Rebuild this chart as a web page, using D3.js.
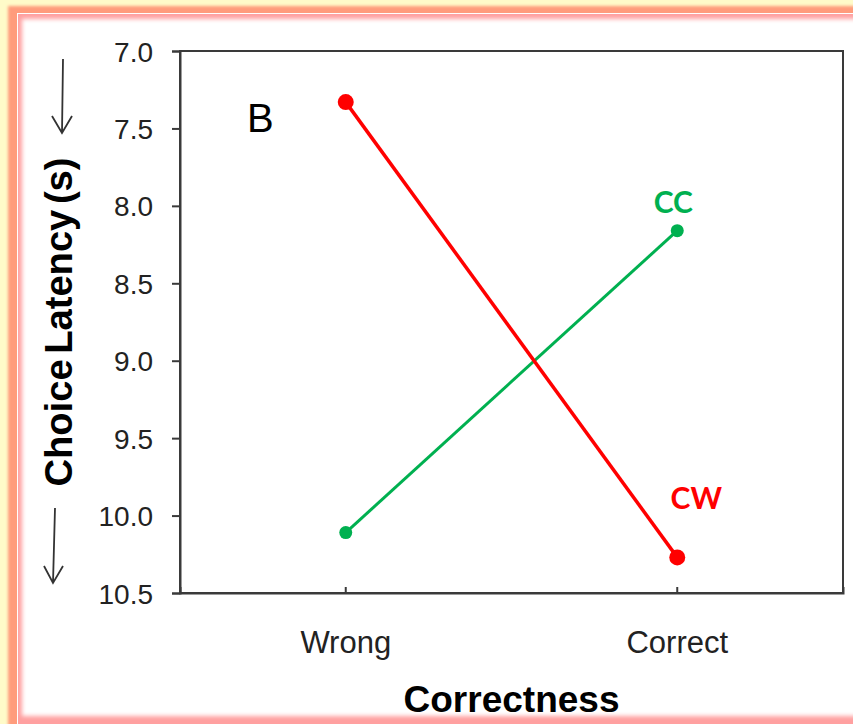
<!DOCTYPE html>
<html>
<head>
<meta charset="utf-8">
<script src="https://cdn.jsdelivr.net/npm/d3@7"></script>
<style>
  html, body { margin: 0; padding: 0; background: #fffbc9; }
  svg { display: block; }
</style>
</head>
<body>
<svg id="chart" width="853" height="724"></svg>
<script>
// ---- data ----
const categories = ["Wrong", "Correct"];
const ccValues = [10.11, 8.16];
const cwValues = [7.33, 10.27];
const yTicks = [7.0, 7.5, 8.0, 8.5, 9.0, 9.5, 10.0, 10.5];
const seriesNames = ["CC", "CW"];
const panelLabel = "B";
const xTitle = "Correctness";
const yTitle = "Choice Latency (s)";

const svg = d3.select("#chart");
const W = 853, H = 724;

// ---- frame ----
const defs = svg.append("defs");
defs.append("filter").attr("id", "blur1").attr("x", "-5%").attr("y", "-5%").attr("width", "110%").attr("height", "110%")
  .append("feGaussianBlur").attr("stdDeviation", 1.6);
defs.append("filter").attr("id", "blur2").attr("x", "-5%").attr("y", "-5%").attr("width", "110%").attr("height", "110%")
  .append("feGaussianBlur").attr("stdDeviation", 2.2);

svg.append("rect").attr("x", 0).attr("y", 0).attr("width", W).attr("height", H).attr("fill", "#fffbc9");
svg.append("rect").attr("x", 8).attr("y", 6).attr("width", 1200).attr("height", 1200)
  .attr("fill", "#ff9c7c").attr("filter", "url(#blur1)");
svg.append("rect").attr("x", 17).attr("y", 13).attr("width", 1200).attr("height", 1200).attr("fill", "#ffffff");
svg.append("rect").attr("x", 18).attr("y", 14).attr("width", 1200).attr("height", 1200).attr("fill", "#ffa0a0");
svg.append("rect").attr("x", 22).attr("y", 19).attr("width", 1200).attr("height", 697)
  .attr("fill", "#ffffff").attr("filter", "url(#blur2)");

// ---- scales ----
const plot = { left: 180, right: 843, top: 51, bottom: 593 };
const x = d3.scaleBand().domain(categories).range([plot.left, plot.right]).padding(0);
const xc = d => x(d) + x.bandwidth() / 2;
const y = d3.scaleLinear().domain([7.0, 10.5]).range([plot.top, plot.bottom]);

const axisColor = "#3a3a3a";
const font = "'Liberation Sans', Arial, sans-serif";

// plot border (top & right)
svg.append("rect")
  .attr("x", plot.left).attr("y", plot.top)
  .attr("width", plot.right - plot.left).attr("height", plot.bottom - plot.top)
  .attr("fill", "none").attr("stroke", axisColor).attr("stroke-width", 2);

// y axis
const gy = svg.append("g").attr("transform", `translate(${plot.left},0)`)
  .call(d3.axisLeft(y).tickValues(yTicks).tickFormat(d3.format(".1f")).tickSize(8).tickPadding(19));
gy.select(".domain").attr("stroke", axisColor).attr("stroke-width", 2);
gy.selectAll(".tick line").attr("stroke", axisColor).attr("stroke-width", 2);
gy.selectAll(".tick text").attr("font-family", font).attr("font-size", 28).attr("fill", "#222").attr("dy", "0.36em");

// x axis
const gx = svg.append("g").attr("transform", `translate(0,${plot.bottom})`)
  .call(d3.axisBottom(x).tickSize(-6).tickPadding(0));
gx.select(".domain").attr("stroke", axisColor).attr("stroke-width", 2);
gx.selectAll(".tick line").attr("stroke", axisColor).attr("stroke-width", 2);
gx.selectAll(".tick text").attr("font-family", font).attr("font-size", 31).attr("fill", "#222")
  .attr("y", 60).attr("dy", 0);

// titles
svg.append("text").attr("x", (plot.left + plot.right) / 2).attr("y", 712)
  .attr("text-anchor", "middle").attr("font-family", font).attr("font-weight", "bold")
  .attr("font-size", 37).attr("fill", "#000").text(xTitle);
svg.append("text").attr("transform", `translate(72,${(plot.top + plot.bottom) / 2}) rotate(-90)`)
  .attr("text-anchor", "middle").attr("font-family", font).attr("font-weight", "bold")
  .attr("font-size", 38).attr("fill", "#000").attr("word-spacing", "-5")
  .attr("textLength", 329).attr("lengthAdjust", "spacingAndGlyphs").text(yTitle);

// arrows
const arrowG = svg.append("g").attr("stroke", "#333").attr("stroke-width", 1.8).attr("fill", "none");
arrowG.append("path").attr("d", "M63,59 L62,133 M52,116 L62,133 L72,116");
arrowG.append("path").attr("d", "M55,508 L53,583 M44,566 L53,583 L63,566");

// panel label
svg.append("text").attr("x", 247).attr("y", 132).attr("font-family", font)
  .attr("font-size", 40).attr("fill", "#000").text(panelLabel);

// series
const series = [
  { name: seriesNames[0], values: ccValues, color: "#00b050", r: 6.5, w: 3 },
  { name: seriesNames[1], values: cwValues, color: "#ff0000", r: 8, w: 3.5 }
];
const line = d3.line().x((d, i) => xc(categories[i])).y(d => y(d));
series.forEach(s => {
  svg.append("path").datum(s.values).attr("d", line)
    .attr("fill", "none").attr("stroke", s.color).attr("stroke-width", s.w);
  svg.selectAll(null).data(s.values).enter().append("circle")
    .attr("cx", (d, i) => xc(categories[i])).attr("cy", d => y(d)).attr("r", s.r).attr("fill", s.color);
});

// series labels
const lblFont = "Lato, 'Open Sans', sans-serif";
svg.append("text").attr("x", xc("Correct") - 4).attr("y", y(ccValues[1]) - 18)
  .attr("text-anchor", "middle").attr("font-family", lblFont).attr("font-weight", "bold")
  .attr("font-size", 30).attr("fill", "#00b050").text(seriesNames[0]);
svg.append("text").attr("x", xc("Correct") + 19).attr("y", y(cwValues[1]) - 48)
  .attr("text-anchor", "middle").attr("font-family", lblFont).attr("font-weight", "bold")
  .attr("font-size", 30).attr("fill", "#ff0000").text(seriesNames[1]);
</script>
</body>
</html>
